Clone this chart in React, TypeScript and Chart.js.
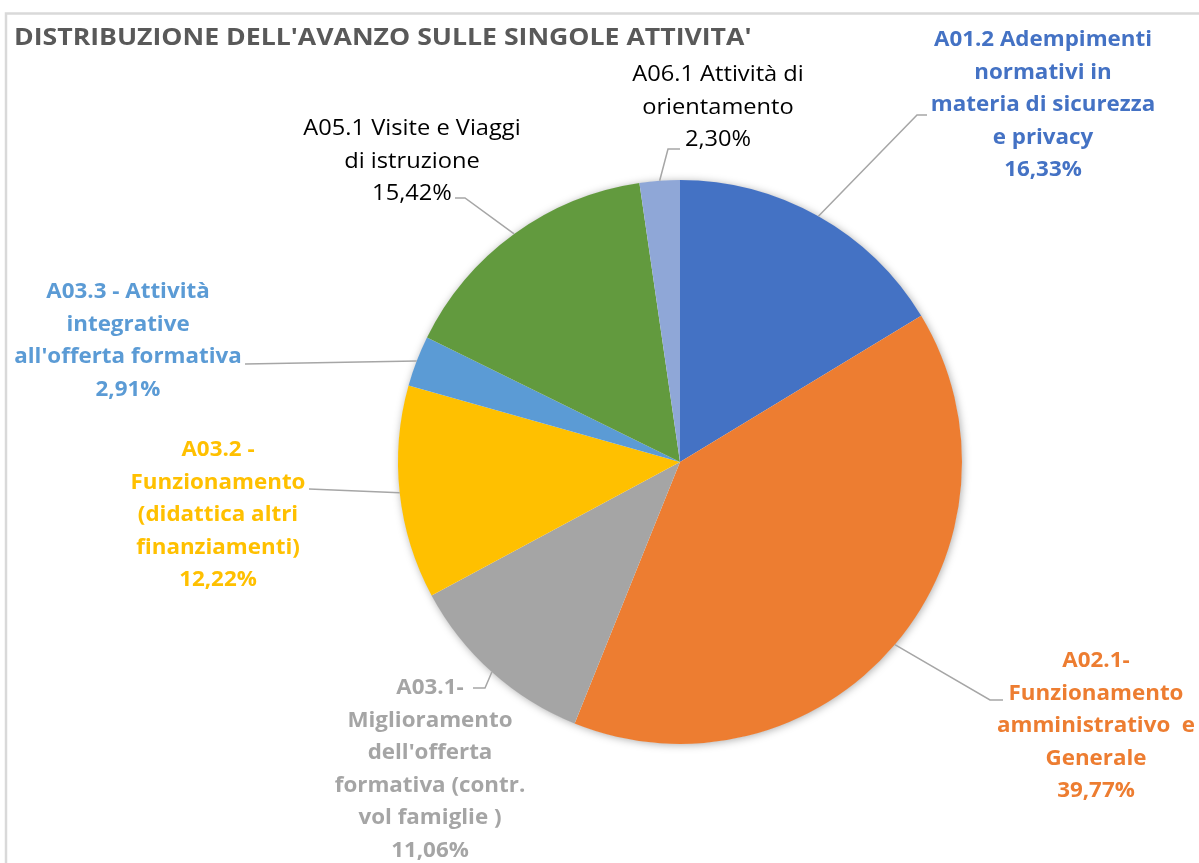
import React, { useEffect, useRef } from "react";
import { Chart, registerables } from "chart.js";

Chart.register(...registerables);

const TITLE = "DISTRIBUZIONE DELL'AVANZO SULLE SINGOLE ATTIVITA'";

const categories: string[][] = [
  ["A01.2 Adempimenti", "normativi in", "materia di sicurezza", "e privacy"],
  ["A02.1-", "Funzionamento", "amministrativo  e", "Generale"],
  ["A03.1-", "Miglioramento", "dell'offerta", "formativa (contr.", "vol famiglie )"],
  ["A03.2 -", "Funzionamento", "(didattica altri", "finanziamenti)"],
  ["A03.3 - Attività", "integrative", "all'offerta formativa"],
  ["A05.1 Visite e Viaggi", "di istruzione"],
  ["A06.1 Attività di", "orientamento"],
];

const values: number[] = [16.33, 39.77, 11.06, 12.22, 2.91, 15.42, 2.3];

const sliceColors: string[] = ["#4472C4", "#ED7D31", "#A5A5A5", "#FFC000", "#5B9BD5", "#629A3E", "#8FA7D7"];
const labelColors: string[] = ["#4472C4", "#ED7D31", "#A5A5A5", "#FFC000", "#5B9BD5", "#000000", "#000000"];
const labelBold: boolean[] = [true, true, true, true, true, false, false];

// label layout: block centre x, first line y, leader elbow and end (page px)
const labelLayout = [
  { cx: 1043, y0: 40, elbow: [917, 115], end: [927, 115] },
  { cx: 1096, y0: 661, elbow: [990, 700], end: [1003, 700] },
  { cx: 430, y0: 688, elbow: [485, 688], end: [473, 688] },
  { cx: 218, y0: 450, elbow: [309, 489], end: [309, 489] },
  { cx: 128, y0: 292, elbow: [245, 364], end: [245, 364] },
  { cx: 412, y0: 129, elbow: [465, 198], end: [455, 198] },
  { cx: 718, y0: 75, elbow: [668, 149], end: [680, 149] },
];

const FONT = "'Open Sans', Lato, sans-serif";
const LINE_H = 32.5;

const fmtPct = (v: number) => v.toFixed(2).replace(".", ",") + "%";

function fillStretched(ctx: CanvasRenderingContext2D, text: string, x: number, y: number, k: number) {
  ctx.save();
  ctx.translate(x, y);
  ctx.scale(k, 1);
  ctx.fillText(text, 0, 0);
  ctx.restore();
}

const decorPlugin = {
  id: "decor",
  beforeDraw(chart: any) {
    const ctx = chart.ctx;
    ctx.save();
    ctx.fillStyle = "#ffffff";
    ctx.fillRect(0, 0, chart.width, chart.height);
    ctx.strokeStyle = "#D9D9D9";
    ctx.lineWidth = 2.5;
    ctx.strokeRect(6, 13.5, chart.width + 20, chart.height + 20);
    ctx.fillStyle = "#595959";
    ctx.font = `bold 24px ${FONT}`;
    ctx.textBaseline = "middle";
    ctx.textAlign = "left";
    fillStretched(ctx, TITLE, 14, 38, 1.11);
    ctx.restore();
  },
  beforeDatasetsDraw(chart: any) {
    const meta = chart.getDatasetMeta(0);
    const arc = meta.data[0];
    if (!arc) return;
    const { x, y, outerRadius } = arc.getProps(["x", "y", "outerRadius"], true);
    const ctx = chart.ctx;
    ctx.save();
    ctx.shadowColor = "rgba(0,0,0,0.35)";
    ctx.shadowBlur = 9;
    ctx.shadowOffsetX = 1;
    ctx.shadowOffsetY = 1;
    ctx.fillStyle = "#ffffff";
    ctx.beginPath();
    ctx.arc(x, y, outerRadius - 0.5, 0, Math.PI * 2);
    ctx.fill();
    ctx.restore();
  },
  afterDatasetsDraw(chart: any) {
    const meta = chart.getDatasetMeta(0);
    const ctx = chart.ctx;
    ctx.save();
    meta.data.forEach((el: any, i: number) => {
      const { x, y, startAngle, endAngle, outerRadius } = el.getProps(
        ["x", "y", "startAngle", "endAngle", "outerRadius"],
        true
      );
      const mid = (startAngle + endAngle) / 2;
      const sx = x + Math.cos(mid) * outerRadius;
      const sy = y + Math.sin(mid) * outerRadius;
      const lay = labelLayout[i];
      ctx.strokeStyle = "#A6A6A6";
      ctx.lineWidth = 1.5;
      ctx.beginPath();
      ctx.moveTo(sx, sy);
      ctx.lineTo(lay.elbow[0], lay.elbow[1]);
      ctx.lineTo(lay.end[0], lay.end[1]);
      ctx.stroke();

      const lines = [...categories[i], fmtPct(values[i])];
      ctx.fillStyle = labelColors[i];
      ctx.font = labelBold[i] ? `bold 21.5px ${FONT}` : `21.5px ${FONT}`;
      ctx.textAlign = "center";
      ctx.textBaseline = "middle";
      const k = labelBold[i] ? 1.04 : 1.1;
      lines.forEach((t, n) => {
        fillStretched(ctx, t, lay.cx, lay.y0 + n * LINE_H, k);
      });
    });
    ctx.restore();
  },
};

export default function App() {
  const ref = useRef<HTMLCanvasElement | null>(null);
  useEffect(() => {
    if (!ref.current) return;
    const chart = new Chart(ref.current, {
      type: "pie",
      data: {
        labels: categories.map((c) => c.join(" ")),
        datasets: [
          {
            data: values,
            backgroundColor: sliceColors,
            borderWidth: 0,
          },
        ],
      },
      options: {
        responsive: false,
        animation: false,
        layout: { padding: { left: 398, top: 180, right: 237, bottom: 119 } },
        plugins: {
          legend: { display: false },
          tooltip: { enabled: false },
          title: { display: false },
        },
      },
      plugins: [decorPlugin],
    });
    return () => chart.destroy();
  }, []);
  return (
    <div style={{ position: "absolute", left: 0, top: 0, width: 1199, height: 863, overflow: "hidden" }}>
      <canvas ref={ref} width={1199} height={863} style={{ display: "block" }} />
    </div>
  );
}
